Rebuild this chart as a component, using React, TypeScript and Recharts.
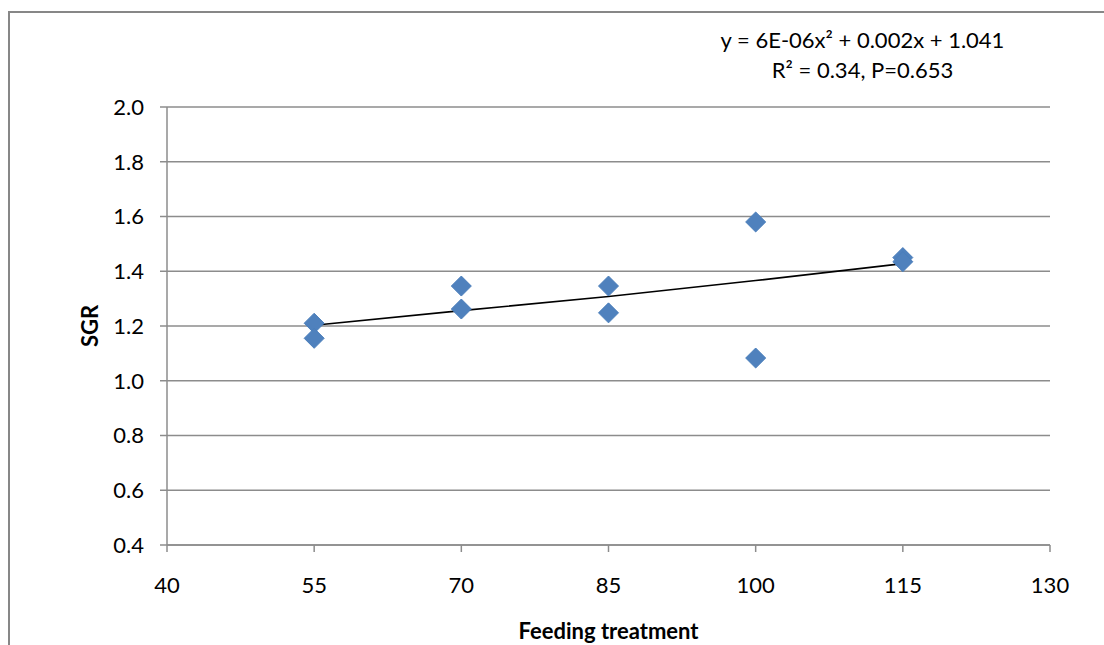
import React from 'react';
import {
  ScatterChart,
  Scatter,
  XAxis,
  YAxis,
  CartesianGrid,
} from 'recharts';

const feedingLevels = [55, 55, 70, 70, 85, 85, 100, 100, 115, 115];
const sgrValues = [1.21, 1.155, 1.346, 1.262, 1.346, 1.248, 1.58, 1.083, 1.45, 1.435];

const trendX = [55, 70, 85, 100, 115];
const trendY = [1.203, 1.256, 1.308, 1.366, 1.428];

const xTicks = [40, 55, 70, 85, 100, 115, 130];
const yTicks = [0.4, 0.6, 0.8, 1.0, 1.2, 1.4, 1.6, 1.8, 2.0];

const points = feedingLevels.map((x, i) => ({ x, y: sgrValues[i] }));
const trend = trendX.map((x, i) => ({ x, y: trendY[i] }));

const FONT = 'Lato, "Open Sans", sans-serif';

const Diamond = (props: any) => {
  const { cx, cy } = props;
  if (cx == null || cy == null) return null;
  const r = 10;
  return (
    <polygon
      points={`${cx},${cy - r} ${cx + r},${cy} ${cx},${cy + r} ${cx - r},${cy}`}
      fill="#4F81BD"
      stroke="#4A7EBB"
      strokeWidth={1}
    />
  );
};

export default function App() {
  return (
    <div
      style={{
        position: 'absolute',
        left: 0,
        top: 0,
        width: 1104,
        height: 645,
        overflow: 'hidden',
        background: '#fff',
        fontFamily: FONT,
      }}
    >
      <div
        style={{
          position: 'absolute',
          left: 8,
          top: 11,
          width: 1200,
          height: 800,
          border: '2px solid #878787',
        }}
      />
      <div style={{ position: 'absolute', left: 0, top: 0 }}>
        <ScatterChart
          width={1104}
          height={645}
          margin={{ top: 107, right: 54, bottom: 0, left: 0 }}
        >
          <CartesianGrid vertical={false} stroke="#8c8c8c" strokeWidth={1.5} />
          <XAxis
            type="number"
            dataKey="x"
            domain={[40, 130]}
            ticks={xTicks}
            height={100}
            stroke="#8c8c8c"
            strokeWidth={1.5}
            tickSize={7}
            tickMargin={25}
            tick={{ fill: '#000', fontSize: 22, fontFamily: FONT }}
            label={{
              value: 'Feeding treatment',
              position: 'insideBottom',
              offset: 6,
              fill: '#000',
              fontSize: 22,
              fontWeight: 'bold',
              fontFamily: FONT,
            }}
          />
          <YAxis
            type="number"
            dataKey="y"
            domain={[0.4, 2.0]}
            ticks={yTicks}
            width={167}
            stroke="#8c8c8c"
            strokeWidth={1.5}
            tickSize={7}
            tickMargin={16}
            tickFormatter={(v: number) => v.toFixed(1)}
            tick={{ fill: '#000', fontSize: 22, fontFamily: FONT }}
            label={{
              value: 'SGR',
              angle: -90,
              position: 'center',
              dx: 7,
              fill: '#000',
              fontSize: 22,
              fontWeight: 'bold',
              fontFamily: FONT,
            }}
          />
          <Scatter
            data={trend}
            line={{ stroke: '#000', strokeWidth: 1.6 }}
            lineType="joint"
            shape={() => null}
            isAnimationActive={false}
          />
          <Scatter data={points} shape={Diamond} isAnimationActive={false} />
        </ScatterChart>
      </div>
      <div
        style={{
          position: 'absolute',
          left: 700,
          top: 25,
          width: 325,
          textAlign: 'center',
          fontSize: 22,
          lineHeight: '30px',
          color: '#000',
        }}
      >
        <div>y = 6E-06x² + 0.002x + 1.041</div>
        <div>R² = 0.34, P=0.653</div>
      </div>
    </div>
  );
}
